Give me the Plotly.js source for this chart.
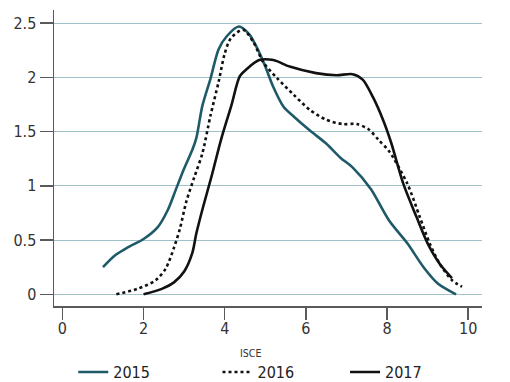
<!DOCTYPE html>
<html>
<head>
<meta charset="utf-8">
<script src="https://cdn.plot.ly/plotly-3.0.1.min.js"></script>
<style>
  html, body { margin: 0; padding: 0; background: #fff; }
  #chart { width: 510px; height: 382px; }
</style>
</head>
<body>
<div id="chart"></div>
<script>
// ---- data ----
const x2015 = [1.0, 1.3, 1.6, 2.0, 2.35, 2.6, 2.8, 3.0, 3.2, 3.3, 3.45, 3.65, 3.85, 4.05, 4.35, 4.6, 4.8, 5.0, 5.2, 5.45, 5.7, 6.1, 6.5, 6.85, 7.15, 7.6, 8.05, 8.5, 8.9, 9.25, 9.7];
const y2015 = [0.25, 0.36, 0.43, 0.51, 0.62, 0.78, 0.97, 1.16, 1.33, 1.44, 1.74, 1.99, 2.26, 2.38, 2.47, 2.40, 2.27, 2.10, 1.91, 1.73, 1.64, 1.51, 1.39, 1.26, 1.17, 0.97, 0.68, 0.47, 0.25, 0.10, 0.0];

const x2016 = [1.33, 1.85, 2.3, 2.55, 2.75, 2.9, 3.05, 3.25, 3.45, 3.65, 3.85, 4.0, 4.15, 4.45, 4.7, 4.95, 5.3, 5.7, 6.1, 6.5, 6.9, 7.25, 7.55, 7.8, 8.05, 8.5, 8.8, 9.05, 9.3, 9.6, 9.85];
const y2016 = [0.0, 0.05, 0.13, 0.24, 0.43, 0.61, 0.85, 1.08, 1.30, 1.65, 1.96, 2.22, 2.36, 2.44, 2.33, 2.14, 1.99, 1.84, 1.70, 1.61, 1.57, 1.57, 1.52, 1.42, 1.32, 1.02, 0.72, 0.47, 0.28, 0.13, 0.07];

const x2017 = [2.0, 2.45, 2.75, 3.0, 3.2, 3.3, 3.47, 3.67, 3.92, 4.17, 4.37, 4.55, 4.85, 5.2, 5.6, 6.25, 6.75, 7.15, 7.4, 7.65, 7.9, 8.1, 8.4, 8.73, 9.0, 9.3, 9.6];
const y2017 = [0.0, 0.05, 0.11, 0.21, 0.38, 0.56, 0.81, 1.08, 1.44, 1.75, 2.01, 2.08, 2.16, 2.16, 2.10, 2.04, 2.02, 2.03, 1.98, 1.82, 1.61, 1.40, 1.02, 0.71, 0.47, 0.28, 0.15];

const seriesNames = ['2015', '2016', '2017'];
const xTickVals = [0, 2, 4, 6, 8, 10];
const yTickVals = [0, 0.5, 1, 1.5, 2, 2.5];
const yTickText = ['0', '0.5', '1', '1.5', '2', '2.5'];
const xTitle = 'ISCE';

// ---- styling ----
const FONT = '"Liberation Sans Narrow", "Arial Narrow", "DejaVu Sans Condensed", sans-serif';
const TEAL = '#1f5a69';
const BLACK = '#111111';
const GRID = '#9fc1c9';
const AXIS = '#5a5a5a';

const traces = [
  {x: x2015, y: y2015, name: seriesNames[0], mode: 'lines', legend: 'legend',
   line: {color: TEAL, width: 2.6, shape: 'spline', smoothing: 0.8}},
  {x: x2016, y: y2016, name: seriesNames[1], mode: 'lines', legend: 'legend2',
   line: {color: BLACK, width: 2.6, dash: 'dot', shape: 'spline', smoothing: 0.8}},
  {x: x2017, y: y2017, name: seriesNames[2], mode: 'lines', legend: 'legend3',
   line: {color: BLACK, width: 2.6, shape: 'spline', smoothing: 0.8}}
];

function leg(x) {
  return {orientation: 'h', x: x, y: -0.166, xanchor: 'left', yanchor: 'top',
          bgcolor: 'rgba(0,0,0,0)', borderwidth: 0,
          font: {family: FONT, size: 16, color: '#222'}};
}

const layout = {
  width: 510, height: 382,
  paper_bgcolor: '#fff', plot_bgcolor: '#fff',
  margin: {l: 54, r: 28, t: 10, b: 76, pad: 0, autoexpand: false},
  showlegend: true,
  legend: leg(0.045),
  legend2: leg(0.382),
  legend3: leg(0.680),
  font: {family: FONT, size: 16, color: '#333'},
  xaxis: {
    range: [-0.207, 10.34], tickvals: xTickVals, ticktext: xTickVals.map(String),
    showgrid: false, zeroline: false, showline: true, linecolor: AXIS, linewidth: 1.5,
    ticks: 'outside', ticklen: 12, tickwidth: 1.5, tickcolor: AXIS, ticklabelstandoff: -5,
    tickfont: {family: FONT, size: 16, color: '#333'}
  },
  yaxis: {
    range: [-0.108, 2.622], tickvals: yTickVals, ticktext: yTickText,
    showgrid: true, gridcolor: GRID, gridwidth: 1, zeroline: false,
    showline: true, linecolor: AXIS, linewidth: 1.5,
    ticks: 'outside', ticklen: 13, tickwidth: 1.5, tickcolor: AXIS,
    tickfont: {family: FONT, size: 16, color: '#333'}
  },
  annotations: [{
    text: xTitle, xref: 'paper', yref: 'paper', x: 0.458, y: -0.16,
    xanchor: 'center', yanchor: 'middle', showarrow: false,
    font: {family: FONT, size: 10.5, color: '#333'}
  }]
};

Plotly.newPlot('chart', traces, layout, {displayModeBar: false, staticPlot: true});
</script>
</body>
</html>
